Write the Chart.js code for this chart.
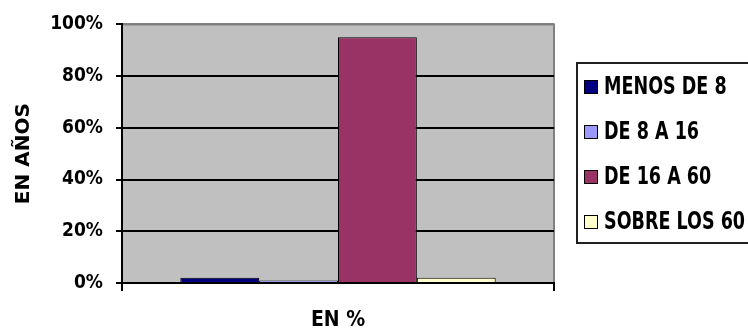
<!DOCTYPE html>
<html>
<head>
<meta charset="utf-8">
<script src="https://cdn.jsdelivr.net/npm/chart.js@4/dist/chart.umd.min.js"></script>
<style>
  html, body { margin: 0; padding: 0; background: #ffffff; overflow: hidden; }
  #wrap { position: relative; width: 748px; height: 331px; }
</style>
</head>
<body>
<div id="wrap"><canvas id="c" width="748" height="331"></canvas></div>
<script>
// Age groups and their share of the population (%)
const categories = [''];
const seriesNames = ['MENOS DE 8', 'DE 8 A 16', 'DE 16 A 60', 'SOBRE LOS 60'];
const seriesValues = [[2], [1], [95], [2]];
const seriesColors = ['#000080', '#9999FF', '#993366', '#FFFFCC'];
const yTicks = [0, 20, 40, 60, 80, 100];
const xTitle = 'EN %';
const yTitle = 'EN AÑOS';

const FONT = '"DejaVu Sans Condensed", "Liberation Sans", Arial, sans-serif';

// Grey plot background with a thin grey frame
const plotBackground = {
  id: 'plotBackground',
  beforeDraw(chart) {
    const { ctx, chartArea: a } = chart;
    ctx.save();
    ctx.fillStyle = '#C0C0C0';
    ctx.fillRect(a.left, a.top, a.right - a.left, a.bottom - a.top);
    ctx.strokeStyle = '#808080';
    ctx.lineWidth = 2;
    ctx.beginPath();
    ctx.moveTo(a.left, a.top);
    ctx.lineTo(a.right, a.top);
    ctx.lineTo(a.right, a.bottom);
    ctx.stroke();
    ctx.restore();
  }
};

// Boxed legend to the right of the plot
const boxedLegend = {
  id: 'boxedLegend',
  afterDraw(chart) {
    const { ctx, chartArea: a } = chart;
    const x0 = a.right + 23, y0 = 63, h = 180;
    ctx.save();
    ctx.fillStyle = '#ffffff';
    ctx.fillRect(x0, y0, 200, h);
    ctx.strokeStyle = '#202020';
    ctx.lineWidth = 2;
    ctx.strokeRect(x0, y0, 200, h);
    ctx.textBaseline = 'middle';
    ctx.textAlign = 'left';
    chart.data.datasets.forEach((ds, i) => {
      const cy = y0 + 24 + i * 45;
      ctx.fillStyle = ds.backgroundColor;
      ctx.fillRect(x0 + 7, cy - 7, 13, 13);
      ctx.strokeStyle = '#000000';
      ctx.lineWidth = 1;
      ctx.strokeRect(x0 + 7.5, cy - 6.5, 13, 13);
      // slightly tall lettering
      ctx.save();
      ctx.translate(x0 + 27, cy + 1);
      ctx.scale(1, 1.25);
      ctx.font = 'bold 19.5px ' + FONT;
      ctx.fillStyle = '#000000';
      ctx.fillText(ds.label, 0, 0);
      ctx.restore();
    });
    ctx.restore();
  }
};

new Chart(document.getElementById('c'), {
  type: 'bar',
  data: {
    labels: categories,
    datasets: seriesNames.map((name, i) => ({
      label: name,
      data: seriesValues[i],
      backgroundColor: seriesColors[i],
      borderColor: '#000000',
      borderWidth: 1,
      categoryPercentage: 0.73,
      barPercentage: 1.0
    }))
  },
  options: {
    responsive: false,
    animation: false,
    layout: { padding: { top: 20, right: 194, bottom: 0, left: 0 } },
    plugins: { legend: { display: false }, tooltip: { enabled: false } },
    scales: {
      x: {
        afterFit(scale) { scale.height = 48; },
        grid: { display: true, drawOnChartArea: false, offset: true, color: '#000000', lineWidth: 2, tickLength: 8 },
        border: { display: true, color: '#000000', width: 2 },
        ticks: { display: false },
        title: { display: true, text: xTitle, color: '#000000', font: { family: FONT, size: 21, weight: 'bold', lineHeight: 1 }, padding: { top: 0, bottom: 0 } }
      },
      y: {
        min: 0, max: 100,
        afterFit(scale) { scale.width = 122; },
        afterBuildTicks(scale) { scale.ticks = yTicks.map(v => ({ value: v })); },
        grid: {
          color: ctx => (ctx.tick && ctx.tick.value === 100 ? '#808080' : '#000000'),
          tickColor: '#000000',
          lineWidth: 2,
          tickLength: 6
        },
        border: { display: true, color: '#000000', width: 2 },
        ticks: {
          color: '#000000', padding: 13,
          font: { family: FONT, size: 19, weight: 'bold' },
          callback: v => v + '%'
        },
        title: { display: true, text: yTitle, color: '#000000', font: { family: '"DejaVu Sans", sans-serif', size: 20, weight: 'bold', lineHeight: 1 }, padding: { top: 14, bottom: 0 } }
      }
    }
  },
  plugins: [plotBackground, boxedLegend]
});
</script>
</body>
</html>
